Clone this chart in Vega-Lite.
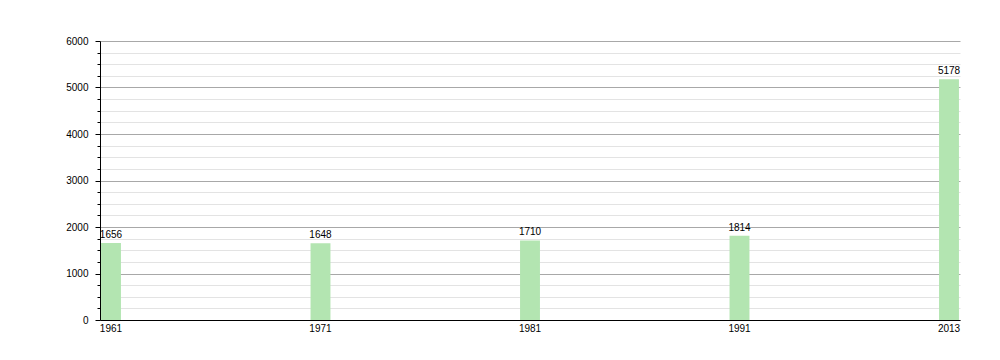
{
  "$schema": "https://vega.github.io/schema/vega-lite/v6.json",
  "autosize": {"type": "none"},
  "width": 860,
  "height": 279,
  "padding": {"left": 100, "top": 41, "right": 40, "bottom": 40},
  "background": "#ffffff",
  "config": {
    "view": {"stroke": null},
    "font": "Liberation Sans",
    "axis": {"labelFont": "Liberation Sans", "labelFontSize": 10, "labelColor": "#000000", "domainColor": "#000000", "tickColor": "#000000", "title": null}
  },
  "data": {
    "values": [
      {"year": "1961", "pop": 1656},
      {"year": "1971", "pop": 1648},
      {"year": "1981", "pop": 1710},
      {"year": "1991", "pop": 1814},
      {"year": "2013", "pop": 5178}
    ]
  },
  "encoding": {
    "x": {
      "field": "year", "type": "ordinal", "sort": null,
      "scale": {"paddingInner": 0.905, "paddingOuter": 0.005},
      "axis": {"labelAngle": 0, "ticks": false, "labelPadding": 3, "domainWidth": 1, "grid": false}
    }
  },
  "layer": [
    {
      "mark": {"type": "bar", "color": "#b3e5b1"},
      "encoding": {
        "y": {
          "field": "pop", "type": "quantitative",
          "scale": {"domain": [0, 6000], "nice": false},
          "axis": {
            "orient": "left",
            "values": [250, 500, 750, 1250, 1500, 1750, 2250, 2500, 2750, 3250, 3500, 3750, 4250, 4500, 4750, 5250, 5500, 5750],
            "labels": false,
            "domain": false,
            "grid": true,
            "gridColor": "#e3e3e3",
            "tickSize": 3
          }
        }
      }
    },
    {
      "mark": {"type": "text", "baseline": "bottom", "dy": -3, "fontSize": 10, "color": "#000000", "font": "Liberation Sans"},
      "encoding": {
        "y": {
          "field": "pop", "type": "quantitative",
          "axis": {
            "orient": "left",
            "values": [0, 1000, 2000, 3000, 4000, 5000, 6000],
            "format": "d",
            "grid": true,
            "gridColor": "#a8a8a8",
            "tickSize": 5,
            "labelPadding": 7,
            "domainWidth": 1
          }
        },
        "text": {"field": "pop", "type": "quantitative", "format": "d"}
      }
    }
  ],
  "resolve": {"axis": {"y": "independent"}}
}
